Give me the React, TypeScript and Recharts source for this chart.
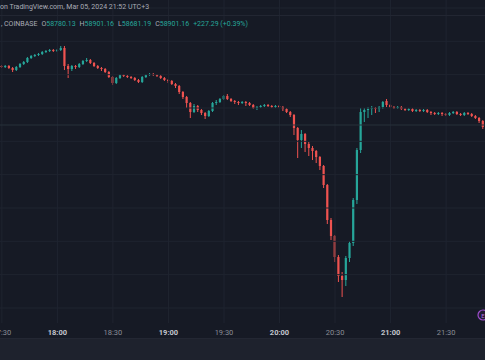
import { ComposedChart, Bar, XAxis, YAxis, ReferenceLine } from "recharts";

// 2-minute candles, 17:30 .. 21:50 (UTC+3)
const times = [
  "17:30", "17:32", "17:34", "17:36", "17:38", "17:40", "17:42", "17:44", "17:46", "17:48", "17:50", "17:52", "17:54", "17:56", "17:58",
  "18:00", "18:02", "18:04", "18:06", "18:08", "18:10", "18:12", "18:14", "18:16", "18:18", "18:20", "18:22", "18:24", "18:26", "18:28",
  "18:30", "18:32", "18:34", "18:36", "18:38", "18:40", "18:42", "18:44", "18:46", "18:48", "18:50", "18:52", "18:54", "18:56", "18:58",
  "19:00", "19:02", "19:04", "19:06", "19:08", "19:10", "19:12", "19:14", "19:16", "19:18", "19:20", "19:22", "19:24", "19:26", "19:28",
  "19:30", "19:32", "19:34", "19:36", "19:38", "19:40", "19:42", "19:44", "19:46", "19:48", "19:50", "19:52", "19:54", "19:56", "19:58",
  "20:00", "20:02", "20:04", "20:06", "20:08", "20:10", "20:12", "20:14", "20:16", "20:18", "20:20", "20:22", "20:24", "20:26", "20:28",
  "20:30", "20:32", "20:34", "20:36", "20:38", "20:40", "20:42", "20:44", "20:46", "20:48", "20:50", "20:52", "20:54", "20:56", "20:58",
  "21:00", "21:02", "21:04", "21:06", "21:08", "21:10", "21:12", "21:14", "21:16", "21:18", "21:20", "21:22", "21:24", "21:26", "21:28",
  "21:30", "21:32", "21:34", "21:36", "21:38", "21:40", "21:42", "21:44", "21:46", "21:48", "21:50",
];

const opens = [
  67260, 67230, 67260, 67200, 67140, 67230, 67320, 67380, 67500, 67560, 67590, 67620, 67680, 67710, 67740,
  67710, 67740, 67800, 67260, 67170, 67260, 67230, 67320, 67410, 67440, 67350, 67260, 67200, 67170, 67080,
  66930, 66750, 66900, 66990, 66960, 66930, 66900, 66840, 66780, 66930, 66990, 67020, 66990, 66960, 66900,
  66840, 66810, 66720, 66660, 66480, 66330, 66150, 65880, 66060, 65940, 65850, 65760, 65910, 66150, 66180,
  66270, 66360, 66270, 66210, 66180, 66150, 66180, 66150, 66090, 66000, 66030, 66060, 66090, 66060, 66030,
  66060, 66030, 65970, 65880, 65790, 65400, 65040, 65220, 64920, 64800, 64710, 64530, 64260, 63690, 62640,
  62160, 61530, 60960, 60840, 61500, 61950, 63240, 64740, 65880, 65940, 65970, 66000, 65970, 66030, 66210,
  66090, 66030, 66000, 66030, 65970, 65940, 65970, 65910, 65940, 65910, 65940, 65880, 65850, 65820, 65850,
  65820, 65790, 65850, 65880, 65820, 65790, 65850, 65820, 65760, 65700, 65610,
];

const highs = [
  67290, 67290, 67290, 67230, 67260, 67350, 67410, 67530, 67590, 67620, 67650, 67710, 67740, 67770, 67770,
  67770, 67860, 67860, 67320, 67290, 67290, 67350, 67440, 67500, 67470, 67380, 67290, 67230, 67200, 67110,
  66960, 66930, 67020, 67020, 66990, 66960, 66930, 66870, 66960, 67020, 67050, 67050, 67020, 66990, 66930,
  66870, 66840, 66750, 66690, 66510, 66360, 66180, 66120, 66090, 65970, 65880, 65940, 66180, 66240, 66300,
  66390, 66420, 66300, 66240, 66210, 66210, 66210, 66180, 66120, 66060, 66090, 66120, 66120, 66090, 66090,
  66090, 66060, 66000, 65910, 65820, 65430, 65340, 65250, 64980, 64860, 64740, 64560, 64290, 63720, 62700,
  62190, 61590, 61080, 61560, 62010, 63300, 64800, 66000, 66000, 66030, 66060, 66030, 66060, 66210, 66270,
  66120, 66060, 66060, 66060, 66000, 66000, 66000, 65970, 65970, 65970, 65970, 65910, 65880, 65880, 65880,
  65850, 65880, 65910, 65910, 65850, 65880, 65880, 65850, 65790, 65730, 65640,
];

const lows = [
  67200, 67200, 67170, 67080, 67110, 67200, 67290, 67350, 67470, 67530, 67560, 67590, 67650, 67680, 67680,
  67680, 67710, 67140, 66900, 67110, 67170, 67200, 67290, 67380, 67320, 67230, 67170, 67110, 67050, 66900,
  66690, 66720, 66870, 66930, 66900, 66870, 66810, 66750, 66750, 66900, 66960, 66960, 66930, 66870, 66810,
  66750, 66690, 66600, 66420, 66270, 66000, 65700, 65850, 65880, 65790, 65670, 65730, 65880, 66090, 66150,
  66240, 66240, 66180, 66120, 66090, 66120, 66060, 66060, 65970, 65940, 66000, 66030, 66030, 66000, 66000,
  66000, 65910, 65850, 65730, 65190, 64500, 64800, 64680, 64560, 64440, 64350, 64140, 63600, 62520, 62040,
  61380, 60780, 60330, 60660, 61380, 61860, 63120, 64650, 65580, 65700, 65790, 65850, 65880, 65970, 66030,
  66000, 65970, 65970, 65940, 65910, 65910, 65880, 65880, 65880, 65880, 65850, 65790, 65790, 65790, 65760,
  65760, 65760, 65820, 65790, 65760, 65760, 65790, 65730, 65670, 65550, 65370,
];

const closes = [
  67230, 67260, 67200, 67140, 67230, 67320, 67380, 67500, 67560, 67590, 67620, 67680, 67710, 67740, 67710,
  67740, 67800, 67260, 67170, 67260, 67230, 67320, 67410, 67440, 67350, 67260, 67200, 67170, 67080, 66930,
  66750, 66900, 66990, 66960, 66930, 66900, 66840, 66780, 66930, 66990, 67020, 66990, 66960, 66900, 66840,
  66810, 66720, 66660, 66480, 66330, 66150, 65880, 66060, 65940, 65850, 65760, 65910, 66150, 66180, 66270,
  66360, 66270, 66210, 66180, 66150, 66180, 66150, 66090, 66000, 66030, 66060, 66090, 66060, 66030, 66060,
  66030, 65970, 65880, 65790, 65400, 65040, 65220, 64920, 64800, 64710, 64530, 64260, 63690, 62640, 62160,
  61530, 60960, 60840, 61500, 61950, 63240, 64740, 65880, 65940, 65970, 66000, 65970, 66030, 66180, 66090,
  66030, 66000, 66030, 65970, 65940, 65970, 65910, 65940, 65910, 65940, 65880, 65850, 65820, 65850, 65820,
  65790, 65850, 65880, 65820, 65790, 65850, 65820, 65760, 65700, 65610, 65430,
];

const gridPrices = [60000, 61000, 62000, 63000, 64000, 65000, 66000, 67000, 68000, 69000];
const timeTicks = ["17:30", "18:00", "18:30", "19:00", "19:30", "20:00", "20:30", "21:00", "21:30"];
const priceLine = 65490;

const UP = "#26a69a";
const DOWN = "#ef5350";
const BG = "#161a25";
const GRID = "#1f2430";
const FONT = "Roboto, 'Liberation Sans', sans-serif";

const data = times.map((time, i) => ({
  time,
  o: opens[i],
  h: highs[i],
  l: lows[i],
  c: closes[i],
  range: [lows[i], highs[i]],
}));

function Candle(props: any) {
  const { x, y, width, height, payload } = props;
  if (!payload) return null;
  const { o, h, l, c } = payload;
  const cx = x + width / 2;
  const py = (p: number) => (h === l ? y : y + ((h - p) / (h - l)) * height);
  const top = py(Math.max(o, c));
  const bot = py(Math.min(o, c));
  const color = c >= o ? UP : DOWN;
  return (
    <g>
      <line x1={cx} x2={cx} y1={y} y2={y + height} stroke={color} strokeWidth={1} />
      <rect x={cx - 1.1} y={top} width={2.2} height={Math.max(1, bot - top)} fill={color} />
    </g>
  );
}

function TimeTick(props: any) {
  const { x, y, payload } = props;
  const hour = String(payload.value).endsWith(":00");
  return (
    <text
      x={x}
      y={y + 11.5}
      textAnchor="middle"
      fontFamily={FONT}
      fontSize={7.5}
      fontWeight={hour ? 700 : 400}
      fill={hour ? "#c3c6ce" : "#8a8d96"}
    >
      {payload.value}
    </text>
  );
}

export default function App() {
  return (
    <div
      style={{
        position: "fixed",
        left: 0,
        top: 0,
        width: 485,
        height: 360,
        background: BG,
        overflow: "hidden",
        fontFamily: FONT,
      }}
    >
      <ComposedChart width={485} height={338} data={data} margin={{ top: 0, right: 0, bottom: 0, left: 0 }}>
        <YAxis hide type="number" domain={[59550, 69240]} allowDataOverflow />
        <XAxis
          dataKey="time"
          interval={14}
          axisLine={false}
          tickLine={false}
          tickSize={0}
          tickMargin={0}
          height={15}
          tick={<TimeTick />}
        />
        {gridPrices.map((p) => (
          <ReferenceLine key={p} y={p} stroke={GRID} strokeWidth={1} ifOverflow="hidden" />
        ))}
        {timeTicks.map((t) => (
          <ReferenceLine key={t} x={t} stroke={GRID} strokeWidth={1} />
        ))}
        <ReferenceLine y={priceLine} stroke="#26303a" strokeWidth={1} />
        <Bar dataKey="range" barSize={3} shape={(p: any) => <Candle {...p} />} isAnimationActive={false} />
      </ComposedChart>

      {/* header */}
      <div
        style={{
          position: "absolute",
          left: 0,
          top: 3,
          fontSize: 7,
          color: "#a9acb5",
          whiteSpace: "nowrap",
          lineHeight: "9px",
        }}
      >
        on TradingView.com, Mar 05, 2024 21:52 UTC+3
      </div>
      <div style={{ position: "absolute", left: 0, top: 15, width: 485, height: 1, background: "#222632" }} />
      <div
        style={{
          position: "absolute",
          left: -3,
          top: 20,
          fontSize: 7,
          color: "#a9acb5",
          whiteSpace: "nowrap",
          lineHeight: "9px",
          display: "flex",
          gap: 4,
        }}
      >
        <span>1, COINBASE</span>
        <span>
          O<span style={{ color: UP }}>58780.13</span>
        </span>
        <span>
          H<span style={{ color: UP }}>58901.16</span>
        </span>
        <span>
          L<span style={{ color: UP }}>58681.19</span>
        </span>
        <span>
          C<span style={{ color: UP }}>58901.16</span>
        </span>
        <span style={{ color: UP }}>+227.29 (+0.39%)</span>
      </div>

      {/* bottom strip */}
      <div
        style={{
          position: "absolute",
          left: 0,
          top: 338,
          width: 485,
          height: 22,
          background: "#1e222d",
          borderTop: "1px solid #232733",
        }}
      />

      {/* event marker */}
      <svg style={{ position: "absolute", left: 470, top: 305 }} width={15} height={20}>
        <circle cx={13} cy={10} r={5} fill="#241c33" stroke="#9c4dcc" strokeWidth={1.2} />
        <text x={13} y={12.5} textAnchor="middle" fontSize={6} fill="#b26ee0" fontFamily={FONT}>
          E
        </text>
      </svg>
    </div>
  );
}
